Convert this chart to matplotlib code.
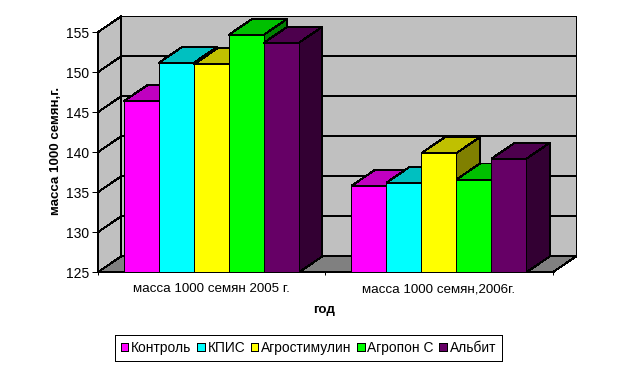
#!/usr/bin/env python3
"""Excel-style 3D column chart: mass of 1000 seeds by treatment and year."""

import matplotlib
matplotlib.use("Agg")
import matplotlib.pyplot as plt
from matplotlib.patches import Polygon, Rectangle

plt.rcParams.update({
    "font.family": ["Liberation Sans", "DejaVu Sans"],
    "font.size": 9.6,
    "patch.antialiased": False,
    "lines.antialiased": False,
})

GROUPS = ["масса 1000 семян 2005 г.", "масса 1000 семян,2006г."]
SERIES = ["Контроль", "КПИС", "Агростимулин", "Агропон С", "Альбит"]
KONTROL = [146.4, 135.8]
KPIS = [151.2, 136.2]
AGROSTIM = [151.0, 139.9]
AGROPON = [154.7, 136.6]
ALBIT = [153.7, 139.2]
Y_TICKS = [125, 130, 135, 140, 145, 150, 155]

FRONT = ["#FF00FF", "#00FFFF", "#FFFF00", "#00FF00", "#660066"]
TOP = ["#C000C0", "#00C0C0", "#C0C000", "#00C000", "#4D004D"]
SIDE = ["#800080", "#008080", "#808000", "#008000", "#330033"]

W, H = 619, 369
LEFT, RIGHT, BASE, CEIL = 97.7, 552.7, 272.3, 32.3  # front plane, pixels
DEPTH_X, DEPTH_Y = 23.5, 16.0  # 3D offset, pixels
LW = 0.72  # one pixel at 100 dpi

fig = plt.figure(figsize=(W / 100, H / 100), dpi=100)
ax = fig.add_axes([LEFT / W, 1 - BASE / H, (RIGHT - LEFT) / W, (BASE - CEIL) / H])
ax.set_xlim(0, len(GROUPS))
ax.set_ylim(Y_TICKS[0], Y_TICKS[-1])

# depth expressed in data units
dx = DEPTH_X * len(GROUPS) / (RIGHT - LEFT)
dy = DEPTH_Y * (Y_TICKS[-1] - Y_TICKS[0]) / (BASE - CEIL)
x1 = len(GROUPS)
y0, y1 = Y_TICKS[0], Y_TICKS[-1]


def poly(pts, color, z=1):
    ax.add_patch(Polygon(pts, closed=True, facecolor=color, edgecolor="black",
                         linewidth=LW, clip_on=False, zorder=z))


# walls and floor
poly([(dx, y0 + dy), (x1 + dx, y0 + dy), (x1 + dx, y1 + dy), (dx, y1 + dy)], "#C0C0C0")
poly([(0, y0), (dx, y0 + dy), (dx, y1 + dy), (0, y1)], "#C0C0C0")
poly([(0, y0), (x1, y0), (x1 + dx, y0 + dy), (dx, y0 + dy)], "#808080")
for t in Y_TICKS[1:-1]:
    ax.plot([0, dx, x1 + dx], [t, t + dy, t + dy], color="black", lw=LW,
            clip_on=False, zorder=2)

# bars, painted left to right so each one covers its neighbour's side
values = [KONTROL, KPIS, AGROSTIM, AGROPON, ALBIT]
bar_w = 1 / 6.5
z = 3
for g in range(len(GROUPS)):
    for s, vals in enumerate(values):
        v = vals[g]
        x = g + 0.75 * bar_w + s * bar_w
        poly([(x + bar_w, y0), (x + bar_w + dx, y0 + dy),
              (x + bar_w + dx, v + dy), (x + bar_w, v)], SIDE[s], z)
        poly([(x, v), (x + bar_w, v), (x + bar_w + dx, v + dy), (x + dx, v + dy)], TOP[s], z)
        ax.bar(x, v - y0, bar_w, bottom=y0, align="edge", color=FRONT[s],
               edgecolor="black", linewidth=LW, zorder=z)
        z += 1

for side in ("top", "right"):
    ax.spines[side].set_visible(False)
for side in ("left", "bottom"):
    ax.spines[side].set_linewidth(LW)
    ax.spines[side].set_zorder(30)

ax.set_yticks(Y_TICKS)
ax.tick_params(axis="y", length=4.5, width=LW, pad=1.5, labelsize=10)
ax.set_xticks(range(len(GROUPS) + 1))
ax.set_xticklabels([])
ax.tick_params(axis="x", which="major", length=2.5, width=LW)
ax.set_xticks([0.5, 1.5], minor=True)
ax.set_xticklabels(GROUPS, minor=True)
ax.tick_params(axis="x", which="minor", length=0, pad=8)

fig.text(324 / W, 1 - 310 / H, "год", ha="center", va="center", fontsize=9.6,
         fontweight="bold")
fig.text(56 / W, 1 - 151 / H, "масса 1000 семян,г.", rotation=90, ha="center",
         va="center", fontsize=9.6, fontweight="bold")

handles = [Rectangle((0, 0), 1, 1, facecolor=c, edgecolor="black", linewidth=LW)
           for c in FRONT]
leg = fig.legend(handles, SERIES, ncol=5, loc="center", fontsize=9.9,
                 bbox_to_anchor=(308.5 / W, 1 - 347.7 / H), fancybox=False, framealpha=1,
                 edgecolor="black", handlelength=0.55, handleheight=0.55, handletextpad=0.2,
                 columnspacing=0.4, borderpad=0.45, borderaxespad=0)
leg.get_frame().set_linewidth(LW)

fig.savefig("out.png", dpi=100)
plt.close()
